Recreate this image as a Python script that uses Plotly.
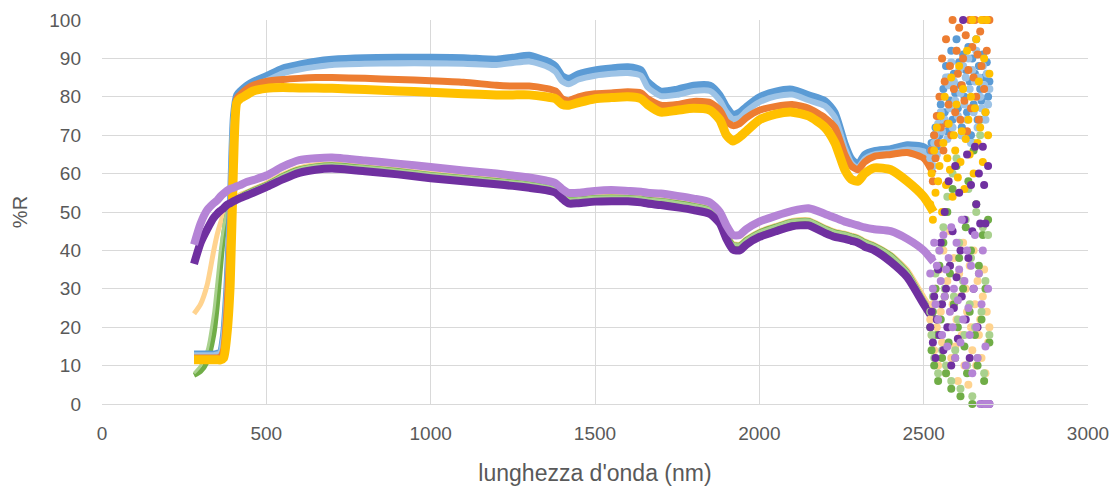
import plotly.graph_objects as go

# ---------------- data ----------------
wl = [280, 300, 320, 340, 350, 360, 370, 380, 390, 400, 410, 420, 440, 460, 500,
      550, 600, 650, 700, 800, 900, 1000, 1100, 1200, 1250, 1300, 1350, 1380, 1400,
      1420, 1450, 1500, 1550, 1600, 1640, 1660, 1700, 1750, 1800, 1850, 1880, 1900,
      1920, 1940, 1960, 2000, 2050, 2100, 2150, 2200, 2230, 2260, 2280, 2300, 2320,
      2350, 2400, 2450, 2500, 2530]

blue = [13, 13, 13, 13, 13.2, 13.5, 18, 30, 50, 75, 80.5, 81.5, 83, 84, 85.5,
        87.5, 88.5, 89.3, 89.8, 90.2, 90.3, 90.3, 90.2, 89.8, 90.3, 90.8, 89.5, 88, 85.5,
        84.8, 86, 87, 87.5, 87.8, 87, 84, 81.5, 82, 83, 83, 80.5, 77.5,
        75.5, 76, 77.5, 80, 81.5, 82, 80.5, 79, 76, 68, 64, 62.5, 65,
        66, 66.5, 67.5, 67, 65]
light_blue = [12.7, 12.7, 12.7, 12.7, 12.9, 13.2, 17.5, 29, 49, 74, 79.5, 80.4, 81.8, 82.8, 84.2,
              86.1, 87.1, 87.8, 88.3, 88.6, 88.7, 88.7, 88.6, 88.3, 88.8, 89.2, 88, 86.5, 84,
              83.3, 84.5, 85.5, 86, 86.2, 85.5, 82.5, 80.2, 80.5, 81.5, 81.5, 79, 76,
              74.2, 74.6, 76.2, 78.6, 80.1, 80.6, 79.1, 77.6, 74.6, 66.8, 62.8, 61.5, 63.8,
              65, 65.5, 66.3, 65.8, 63.8]
orange = [12, 12, 12, 12, 12, 12.2, 14, 24, 42, 68, 79.5, 80.5, 82, 83, 84,
          84.5, 84.8, 85, 85, 84.8, 84.5, 84.2, 83.8, 83, 82.8, 82.8, 82.2, 81.5, 79.5,
          79, 80, 80.8, 81, 81.3, 81, 79.5, 77.8, 78, 78.8, 78.5, 76.5, 73.5,
          72.5, 73, 74.5, 76.5, 77.5, 78, 77, 74.5, 72, 65, 62, 61, 63,
          64.5, 65, 65.5, 64, 60]
gold = [11.5, 11.5, 11.5, 11.5, 11.5, 11.5, 12, 18, 31, 62, 78.5, 79.5, 80.5, 81.5, 82.2,
        82.4, 82.3, 82.3, 82.2, 81.9, 81.5, 81.2, 80.8, 80.5, 80.5, 80.5, 80, 79.5, 78,
        77.8, 78.5, 79.5, 79.8, 80, 79.5, 78, 76, 76.5, 77, 76.5, 74, 70,
        68.5, 69.5, 71, 74, 75.5, 76, 75, 72, 68, 61, 58.5, 58, 60,
        61.5, 61, 58, 54, 50]
peach = [23.5, 26, 31, 40, 44, 47, 49.5, 51, 52.5, 53.5, 54, 54.5, 55.2, 56, 57.5,
         59.8, 61.5, 62.3, 62.5, 61.8, 61, 60, 59.2, 58.4, 58, 57.5, 57, 56.3, 54.8,
         53.5, 53.6, 54, 54.1, 54, 53.8, 53.5, 53.2, 52.6, 51.9, 50.9, 48.4, 44.5,
         41.8, 41.6, 43, 45, 46.5, 47.8, 48, 46, 45, 44.5, 44, 43.5, 42.5,
         41.5, 39, 35, 28, 24]
green = [7.5, 8.5, 11, 18, 25, 35, 44, 49, 51.5, 52.5, 53.5, 54, 55, 55.8, 57.2,
         59.5, 61.2, 62, 62.3, 61.6, 60.8, 59.8, 59, 58.2, 57.8, 57.3, 56.7, 56, 54.5,
         53.3, 53.4, 53.8, 53.9, 53.8, 53.6, 53.3, 53, 52.4, 51.7, 50.7, 48.2, 44.3,
         41.6, 41.4, 42.8, 44.8, 46.3, 47.6, 47.8, 45.8, 44.8, 44.3, 43.8, 43.3, 42.3,
         41.3, 38.8, 34.5, 27, 23]
light_green = [8, 10, 14, 24, 32, 40, 46, 50, 52, 53, 53.8, 54.2, 55.1, 55.9, 57.3,
               59.6, 61.3, 62.1, 62.4, 61.7, 60.9, 59.9, 59.1, 58.3, 57.9, 57.4, 56.8, 56.1, 54.6,
               53.4, 53.5, 53.9, 54, 53.9, 53.7, 53.4, 53.1, 52.5, 51.8, 50.8, 48.3, 44.4,
               41.7, 41.5, 42.9, 44.9, 46.4, 47.7, 47.9, 45.9, 44.9, 44.4, 43.9, 43.4, 42.4,
               41.4, 38.9, 34.7, 27.5, 23.5]
purple = [36.5, 42, 45.5, 48.5, 49.5, 50.3, 51, 51.8, 52.3, 52.8, 53.2, 53.6, 54.3, 55, 56.5,
          58.5, 60.2, 61, 61.3, 60.6, 59.8, 58.8, 58, 57.2, 56.8, 56.3, 55.7, 55, 53.5,
          52.2, 52.3, 52.7, 52.8, 52.8, 52.5, 52.2, 51.8, 51.2, 50.5, 49.5, 47, 43,
          40.2, 40, 41.5, 43.5, 45, 46.3, 46.5, 44.5, 43.5, 43, 42.5, 42, 41,
          40, 37, 33, 26, 22]
lavender = [41.5, 47, 50.5, 52.3, 53, 54, 54.8, 55.5, 56, 56.3, 56.7, 57, 57.8, 58.3, 59.5,
            61.8, 63.5, 64, 64.2, 63.4, 62.6, 61.7, 60.8, 60, 59.5, 59, 58.2, 57.5, 56,
            55, 55, 55.5, 55.7, 55.5, 55.3, 55, 54.8, 54.2, 53.5, 52.5, 50, 46.5,
            44, 44, 45.5, 47.5, 49, 50.3, 51, 49.5, 48.5, 47.5, 47, 46.5, 46,
            45.5, 45, 43, 40, 37]

# noisy tail beyond ~2520 nm (scattered points)
tail_wl = [2520, 2524, 2528, 2532, 2536, 2540, 2544, 2548, 2552, 2556, 2560, 2564,
           2568, 2572, 2576, 2580, 2584, 2588, 2592, 2596, 2600, 2604, 2608, 2612,
           2616, 2620, 2624, 2628, 2632, 2636, 2640, 2644, 2648, 2652, 2656, 2660,
           2664, 2668, 2672, 2676, 2680, 2684, 2688, 2692, 2696, 2700]
blue_tail = [66, 68, 64, 70, 72, 67, 75, 70, 78, 73, 82, 76, 88, 71, 85, 79, 92, 74, 86, 81, 95, 77, 89,
             83, 72, 91, 80, 87, 76, 93, 84, 70, 90, 78, 86, 95, 74, 88, 82, 79, 91, 85, 76, 89, 80, 84]
light_blue_tail = [64, 66, 62, 68, 70, 65, 73, 68, 76, 71, 80, 74, 85, 69, 83, 77, 89, 72, 84, 79, 92, 75,
                   87, 81, 70, 88, 78, 85, 74, 90, 82, 68, 87, 76, 84, 92, 72, 85, 80, 77, 88, 83, 74, 86,
                   78, 82]
orange_tail = [62, 66, 58, 70, 64, 75, 68, 80, 72, 90, 66, 84, 95, 73, 78, 88, 70, 100, 82, 76, 92, 86, 98,
               74, 83, 90, 79, 96, 71, 87, 100, 77, 93, 85, 100, 80, 91, 74, 97, 88, 100, 82, 100, 92,
               100, 100]
gold_tail = [52, 60, 48, 66, 55, 72, 58, 62, 75, 50, 68, 80, 57, 64, 73, 61, 85, 54, 70, 66, 78, 59, 88,
             63, 71, 82, 56, 69, 92, 74, 65, 80, 100, 60, 77, 95, 68, 84, 72, 100, 63, 90, 76, 100, 70, 86]
peach_tail = [22, 18, 26, 14, 30, 20, 10, 35, 24, 16, 40, 28, 8, 32, 20, 45, 12, 26, 38, 15, 22, 6, 34,
              28, 18, 42, 10, 30, 24, 5, 36, 20, 14, 40, 26, 10, 32, 18, 22, 12, 28, 35, 8, 24, 16, 20]
green_tail = [20, 14, 24, 10, 30, 18, 6, 36, 22, 12, 42, 28, 8, 50, 16, 34, 4, 56, 26, 12, 62, 20, 38, 2,
              70, 30, 15, 46, 8, 58, 24, 40, 0, 66, 18, 52, 10, 36, 74, 22, 44, 6, 30, 0, 48, 16]
light_green_tail = [24, 18, 28, 12, 34, 22, 8, 40, 26, 14, 46, 30, 10, 54, 20, 36, 6, 60, 28, 14, 64, 22,
                    42, 4, 72, 32, 18, 48, 10, 56, 26, 38, 2, 68, 20, 50, 12, 34, 70, 24, 46, 8, 32, 0,
                    44, 18]
purple_tail = [20, 24, 16, 28, 12, 22, 35, 18, 42, 26, 14, 50, 30, 20, 58, 36, 10, 45, 25, 62, 33, 17,
               55, 40, 28, 100, 48, 22, 65, 38, 12, 57, 45, 30, 67, 52, 20, 60, 47, 0, 67, 57, 47, 0,
               62, 0]
lavender_tail = [34, 38, 30, 42, 26, 36, 22, 40, 32, 18, 44, 28, 35, 15, 38, 24, 46, 20, 30, 12, 42, 27,
                 35, 16, 48, 22, 32, 10, 40, 25, 18, 36, 8, 30, 44, 20, 12, 34, 0, 26, 40, 0, 15, 0,
                 30, 0]

x_ticks = [0, 500, 1000, 1500, 2000, 2500, 3000]
y_ticks = [0, 10, 20, 30, 40, 50, 60, 70, 80, 90, 100]

series = [
    ("peach", peach, peach_tail, "#FFD38F", 5),
    ("green", green, green_tail, "#70AD47", 5),
    ("light green", light_green, light_green_tail, "#A9D18E", 3),
    ("blue", blue, blue_tail, "#5B9BD5", 7),
    ("light blue", light_blue, light_blue_tail, "#9DC3E6", 6),
    ("orange", orange, orange_tail, "#ED7D31", 7),
    ("gold", gold, gold_tail, "#FFC000", 9),
    ("purple", purple, purple_tail, "#7030A0", 8),
    ("lavender", lavender, lavender_tail, "#B584D6", 8),
]

fig = go.Figure()
for name, main, tail, color, w in series:
    fig.add_trace(go.Scatter(x=wl, y=main, mode="lines", name=name,
                             line=dict(color=color, width=w, shape="spline", smoothing=0.6)))
for name, main, tail, color, w in series:
    fig.add_trace(go.Scatter(x=tail_wl, y=tail, mode="markers", name=name,
                             marker=dict(color=color, size=8), cliponaxis=False))

font_family = "Liberation Sans, Arial, sans-serif"
fig.update_layout(
    width=1113, height=486,
    margin=dict(l=102, r=25, t=20, b=82),
    paper_bgcolor="white", plot_bgcolor="white",
    showlegend=False,
    font=dict(family=font_family, color="#595959", size=18),
    xaxis=dict(range=[0, 3000], tickvals=x_ticks, showgrid=True, gridcolor="#d9d9d9",
               gridwidth=1, zeroline=False, showline=True, linecolor="#d9d9d9",
               automargin=False,
               ticks="", ticklabelstandoff=12, tickfont=dict(size=19, color="#595959"),
               title=dict(text="lunghezza d'onda (nm)", font=dict(size=23, color="#595959"),
                          standoff=22)),
    yaxis=dict(range=[0, 100], tickvals=y_ticks, showgrid=True, gridcolor="#d9d9d9",
               gridwidth=1, zeroline=False, ticks="", ticklabelstandoff=20,
               automargin=False,
               tickfont=dict(size=19, color="#595959"),
               title=dict(text="%R", font=dict(size=20, color="#595959"), standoff=16)),
)
fig.write_html("out.html")
